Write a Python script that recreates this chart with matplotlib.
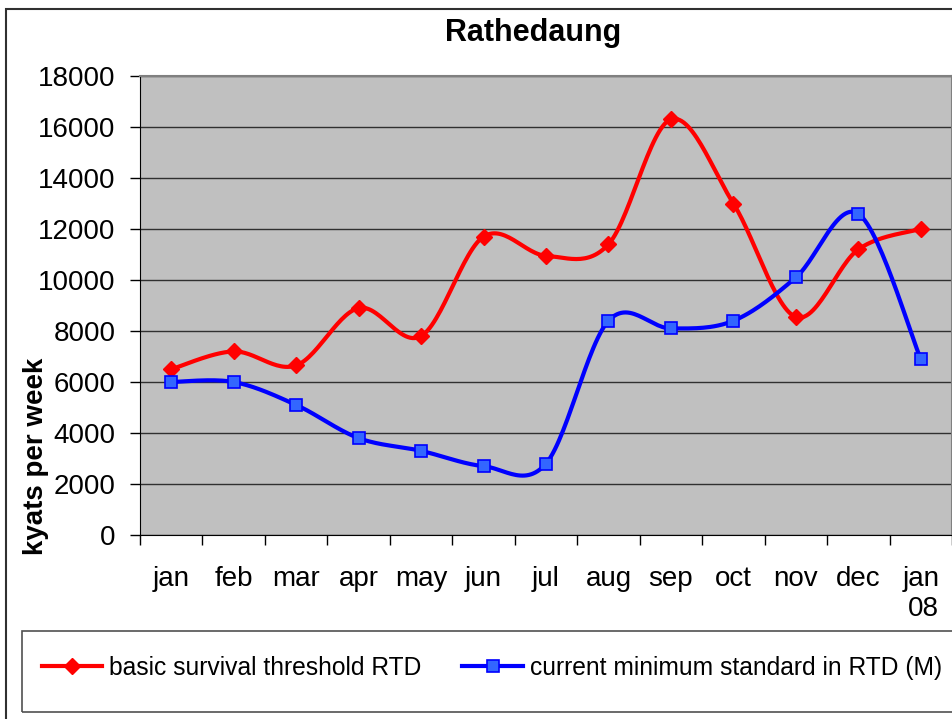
"""Rathedaung: basic survival threshold vs current minimum standard."""

import matplotlib

matplotlib.use("Agg")
import matplotlib.pyplot as plt
import numpy as np
from matplotlib.lines import Line2D
from matplotlib.patches import Rectangle

MONTHS = ["jan", "feb", "mar", "apr", "may", "jun", "jul", "aug", "sep", "oct", "nov", "dec", "jan\n08"]
SURVIVAL = [6500, 7200, 6650, 8900, 7800, 11700, 10950, 11400, 16300, 13000, 8550, 11200, 12000]
MINIMUM = [6000, 6000, 5100, 3800, 3300, 2700, 2800, 8400, 8100, 8400, 10100, 12600, 6900]
SURVIVAL_LABEL = "basic survival threshold RTD"
MINIMUM_LABEL = "current minimum standard in RTD (M)"

plt.rcParams["font.family"] = ["Liberation Sans", "DejaVu Sans"]


def smooth(xs, ys, steps=30):
    """Excel-style smoothed line: Catmull-Rom segments drawn as cubic Beziers."""
    p = np.column_stack([xs, ys]).astype(float)
    p = np.vstack([p[0], p, p[-1]])
    t = np.linspace(0, 1, steps)[:, None]
    out = []
    for i in range(1, len(p) - 2):
        b0, b3 = p[i], p[i + 1]
        b1 = b0 + (p[i + 1] - p[i - 1]) / 6
        b2 = b3 - (p[i + 2] - p[i]) / 6
        seg = (1 - t) ** 3 * b0 + 3 * (1 - t) ** 2 * t * b1 + 3 * (1 - t) * t ** 2 * b2 + t ** 3 * b3
        out.append(seg if i == 1 else seg[1:])
    out = np.vstack(out)
    return out[:, 0], out[:, 1]


fig = plt.figure(figsize=(9.52, 7.19), dpi=100)
ax = fig.add_axes([140 / 952, 1 - 535 / 719, 1 - 140 / 952, (535 - 76) / 719])
ax.set_facecolor("#C0C0C0")

x = np.arange(len(MONTHS)) + 0.5

red = dict(color="#FF0000", lw=3, marker="D", ms=8, mfc="#FF0000", mec="#FF0000", mew=1)
blue = dict(color="#0000FF", lw=3, marker="s", ms=8.3, mfc="#3366FF", mec="#0000FF", mew=1.2)

for vals, style in [(SURVIVAL, red), (MINIMUM, blue)]:
    sx, sy = smooth(x, vals)
    ax.plot(sx, sy, color=style["color"], lw=style["lw"], solid_capstyle="round", zorder=3)
    ax.plot(x, vals, ls="none", zorder=4, **{k: v for k, v in style.items() if k not in ("color", "lw")})

ax.set_xlim(0, len(MONTHS))
ax.set_ylim(0, 18000)
ax.set_yticks(np.arange(0, 18001, 2000))
ax.set_xticks(np.arange(len(MONTHS) + 1))
ax.set_xticklabels([])
ax.set_xticks(x, minor=True)
ax.set_xticklabels(MONTHS, minor=True, fontsize=20, ha="center", multialignment="right")
ax.tick_params(axis="x", which="minor", length=0, pad=22)
ax.tick_params(axis="x", which="major", length=7.2, width=1, color="#000000", direction="out")
ax.tick_params(axis="y", length=7.2, width=1, color="#000000", labelsize=20, pad=10.5)
ax.grid(axis="y", color="#303030", lw=1, zorder=1)
ax.set_axisbelow(True)

for side in ("top", "right"):
    ax.spines[side].set_color("#808080")
    ax.spines[side].set_linewidth(1.5)
ax.spines["left"].set_color("#000000")
ax.spines["bottom"].set_color("#000000")

fig.text(533 / 952, 1 - 33 / 719, "Rathedaung", ha="center", va="center", fontsize=22, fontweight="bold")
fig.text(36 / 952, 1 - 456 / 719, "kyats per week", ha="center", va="center", rotation=90,
         fontsize=20, fontweight="bold")

# outer chart border and legend box (both run off the right edge)
fig.patches.append(Rectangle((6 / 952, -0.05), 1.1, 1 - 9 / 719 + 0.05, transform=fig.transFigure,
                             fill=False, ec="#303030", lw=1.5))
fig.patches.append(Rectangle((22 / 952, 1 - 712 / 719), 1.1, (712 - 631) / 719, transform=fig.transFigure,
                             fill=False, ec="#505050", lw=1.2))

handles = [
    Line2D([], [], **red),
    Line2D([], [], **blue),
]
fig.legend(handles, [SURVIVAL_LABEL, MINIMUM_LABEL], loc="center", bbox_to_anchor=(492 / 952, 1 - 668 / 719),
           ncol=2, frameon=False, fontsize=17.7, handlelength=2.45, handletextpad=0.3, columnspacing=1.65)

fig.savefig("out.png", dpi=100)
